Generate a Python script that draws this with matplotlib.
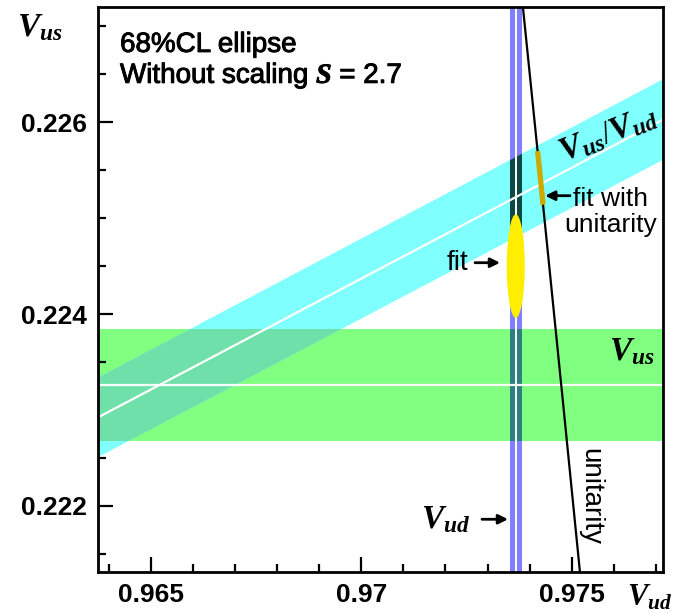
import numpy as np
import matplotlib
matplotlib.use('Agg')
import matplotlib.pyplot as plt
import matplotlib.patheffects as pe
from matplotlib.patches import Rectangle, Polygon, Ellipse
from matplotlib.ticker import MultipleLocator, FixedLocator, FuncFormatter

plt.rcParams['font.family'] = ['Liberation Sans', 'DejaVu Sans']
plt.rcParams['mathtext.fontset'] = 'custom'
plt.rcParams['mathtext.rm'] = 'Liberation Serif'
plt.rcParams['mathtext.it'] = 'Liberation Serif:italic:bold'
plt.rcParams['mathtext.bf'] = 'Liberation Serif:bold'

vud, dvud = 0.97367, 0.00014          # V_ud band
vus, dvus = 0.22326, 0.00058          # V_us band
ratio, dratio = 0.23131, 0.00043      # V_us/V_ud band
vub = 0.00382                          # for the unitarity curve
fit_vud, fit_vus = 0.97367, 0.22450    # fit ellipse centre
fit_dvud, fit_dvus = 0.000215, 0.00054 # ellipse half-axes
fitu_lo, fitu_hi = 0.22514, 0.22570    # fit with unitarity (V_us range)

xmin, xmax = 0.96374, 0.97717
ymin, ymax = 0.22131, 0.22720

fig = plt.figure(figsize=(6.73, 6.14), dpi=100)
ax = fig.add_axes([98 / 673, 1 - 572 / 614, 565 / 673, 564.7 / 614])
ax.set_xlim(xmin, xmax)
ax.set_ylim(ymin, ymax)

# V_us horizontal band
green = Rectangle((xmin, vus - dvus), xmax - xmin, 2 * dvus,
                  facecolor='#80ff80', edgecolor='none', zorder=1)
ax.add_patch(green)

# V_us / V_ud band
xs = np.array([xmin, xmax])
band = np.column_stack([np.r_[xs, xs[::-1]],
                        np.r_[(ratio + dratio) * xs, (ratio - dratio) * xs[::-1]]])
cyan = Polygon(band, closed=True, facecolor='#80ffff', edgecolor='none', zorder=2)
ax.add_patch(cyan)
both = Polygon(band, closed=True, facecolor='#70e0aa', edgecolor='none', zorder=3)
ax.add_patch(both)
both.set_clip_path(green)

# V_ud vertical band, darker where it crosses the other bands
blue = Rectangle((vud - dvud, ymin), 2 * dvud, ymax - ymin,
                 facecolor='#8080ff', edgecolor='none', zorder=4)
ax.add_patch(blue)
dark1 = Rectangle((vud - dvud, ymin), 2 * dvud, ymax - ymin,
                  facecolor='#0c4844', edgecolor='none', zorder=5)
ax.add_patch(dark1)
dark1.set_clip_path(cyan)
dark2 = Rectangle((vud - dvud, ymin), 2 * dvud, ymax - ymin,
                  facecolor='#2e8080', edgecolor='none', zorder=5)
ax.add_patch(dark2)
dark2.set_clip_path(green)

# central values
ax.axhline(vus, color='white', lw=1.6, zorder=6)
ax.plot(xs, ratio * xs, color='white', lw=1.6, zorder=6)
ax.axvline(vud, color='white', lw=1.4, zorder=6)

# unitarity curve
yy = np.linspace(ymin - 0.0005, ymax + 0.0005, 200)
ax.plot(np.sqrt(1 - yy ** 2 - vub ** 2), yy, color='black', lw=1.6, zorder=7)
yu = np.linspace(fitu_lo, fitu_hi, 20)
ax.plot(np.sqrt(1 - yu ** 2 - vub ** 2), yu, color='#ccaa00', lw=3.8,
        solid_capstyle='butt', zorder=8)

# fit ellipse
ax.add_patch(Ellipse((fit_vud, fit_vus), 2 * fit_dvud, 2 * fit_dvus,
                     facecolor='#ffee00', edgecolor='none', zorder=9))

# axes style
for s in ax.spines.values():
    s.set_linewidth(2.0)
    s.set_zorder(20)
ax.xaxis.set_major_locator(FixedLocator([0.965, 0.97, 0.975]))
ax.xaxis.set_minor_locator(MultipleLocator(0.001))
ax.yaxis.set_major_locator(FixedLocator([0.222, 0.224, 0.226]))
ax.yaxis.set_minor_locator(MultipleLocator(0.0005))
fmt = FuncFormatter(lambda v, p: f'{v:g}')
ax.xaxis.set_major_formatter(fmt)
ax.yaxis.set_major_formatter(fmt)
ax.tick_params(which='both', direction='in', top=False, right=False, width=1.6)
ax.tick_params(which='major', length=10.5, pad=8, labelsize=19)
ax.tick_params(which='minor', length=5.5)
for lab in ax.get_xticklabels() + ax.get_yticklabels():
    lab.set_fontweight('bold')

# axis titles
fig.text(40 / 673, 1 - 28 / 614, r'$V_{us}$', fontsize=24, ha='center', va='center')
fig.text(672 / 673, 1 - 598 / 614, r'$V_{ud}$', fontsize=22, ha='right', va='center')

# header
heavy = [pe.withStroke(linewidth=0.7, foreground='black')]
ax.text(0.039, 0.921, '68%CL ellipse', transform=ax.transAxes, fontsize=20,
        va='baseline', ha='left', path_effects=heavy)
ax.text(0.039, 0.866, 'Without scaling $S$ = 2.7', transform=ax.transAxes,
        fontsize=20, va='baseline', ha='left', path_effects=heavy)

# annotations
arrow = dict(arrowstyle='-|>', color='black', lw=2, mutation_scale=14,
             shrinkA=0, shrinkB=0)
ax.annotate('', xy=(0.973296, 0.224536), xytext=(0.972701, 0.224536),
            arrowprops=arrow, zorder=12)
ax.text(0.97253, 0.224536, 'fit', fontsize=20, ha='right', va='center', zorder=12)

ax.annotate('', xy=(0.97437, 0.225235), xytext=(0.97496, 0.225235),
            arrowprops=arrow, zorder=12)
ax.text(0.97592, 0.225066, 'fit with\nunitarity', fontsize=19, ha='center',
        va='center', linespacing=1.1, zorder=12)

ax.annotate('', xy=(0.973486, 0.22186), xytext=(0.972868, 0.22186),
            arrowprops=arrow, zorder=12)
ax.text(0.97259, 0.22186, r'$V_{ud}$', fontsize=24, ha='right', va='center', zorder=12)

ax.text(0.975435, 0.222094, 'unitarity', fontsize=20, rotation=-90,
        ha='center', va='center', zorder=12)
ax.text(0.976433, 0.223607, r'$V_{us}$', fontsize=24, ha='center', va='center', zorder=12)
ax.text(0.975863, 0.225872, r'$V_{us}/V_{ud}$', fontsize=24, rotation=22,
        ha='center', va='center', zorder=12)

fig.savefig('out.png', dpi=100)
